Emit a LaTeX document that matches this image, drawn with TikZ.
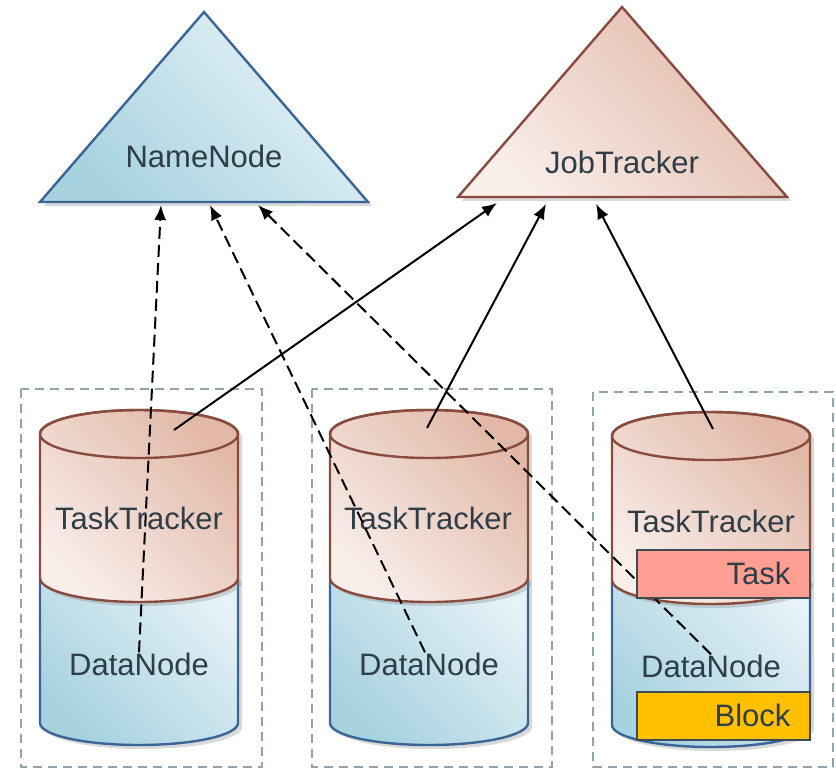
\documentclass[tikz,border=0pt]{standalone}
\usepackage{fontspec}
\setmainfont{Liberation Sans}
\usetikzlibrary{arrows.meta,shadows}

\definecolor{bluedk}{HTML}{A7D2E0}
\definecolor{bluelt}{HTML}{E8F3F8}
\definecolor{reddk}{HTML}{E2B9A8}
\definecolor{redlt}{HTML}{F9EEEA}
\definecolor{nnedge}{HTML}{3B6596}
\definecolor{jtedge}{HTML}{8A4B3F}
\definecolor{txt}{HTML}{2E3D47}
\definecolor{boxedge}{HTML}{8FA3B1}
\definecolor{taskfill}{HTML}{FF9F92}
\definecolor{blockfill}{HTML}{FFC000}
\definecolor{tagedge}{HTML}{3E4A54}

\begin{document}
\begin{tikzpicture}[x=1pt,y=-1pt]
\tikzstyle{lbl}=[text=txt,font=\fontsize{31}{37}\selectfont,inner sep=0pt]
\tikzstyle{blueshade}=[top color=bluelt,bottom color=bluedk,shading angle=-45]
\tikzstyle{redshade}=[top color=reddk,bottom color=redlt,shading angle=-45]
\tikzstyle{hdfs}=[draw=nnedge,line width=2.4pt,blueshade]
\tikzstyle{mapred}=[draw=jtedge,line width=2.4pt,redshade]
\tikzstyle{shadowed}=[drop shadow={opacity=0.3,shadow xshift=4pt,shadow yshift=-4pt}]
\tikzstyle{machine}=[draw=boxedge,line width=1.6pt,dash pattern=on 9pt off 6pt]
\tikzstyle{report}=[line width=2pt,dash pattern=on 12pt off 6pt,-{Latex[length=15pt,width=12pt]}]
\tikzstyle{heartbeat}=[line width=2pt,-{Latex[length=15pt,width=12pt]}]
\tikzstyle{tagbox}=[draw=tagedge,line width=1.6pt,minimum width=173pt,minimum height=48pt,anchor=north west,inner sep=0pt]

\useasboundingbox (0,0) rectangle (836,769);

% machines
\draw[machine] (21,389) rectangle (262,767);
\draw[machine] (312,389) rectangle (552,767);
\draw[machine] (593,392) rectangle (833,767);

% masters
\draw[hdfs,shadowed] (204,12) -- (368,202) -- (40,202) -- cycle;
\node[lbl,anchor=base] (NN) at (204,167) {NameNode};
\draw[mapred,shadowed] (622,7) -- (787,197) -- (458,197) -- cycle;
\node[lbl,anchor=base] (JT) at (622,173) {JobTracker};

% slave 1
\draw[hdfs,shadowed] (40,581) -- (40,723) arc(180:0:99 and 22) -- (238,581) arc(0:-180:99 and 24) -- cycle;
\draw[mapred,shadowed] (40,434) -- (40,578) arc(180:0:99 and 24) -- (238,434) arc(0:-180:99 and 24) -- cycle;
\draw[draw=jtedge,line width=2.4pt] (139,434) ellipse (99 and 24);
\node[lbl,anchor=base] (tt1) at (139,529) {TaskTracker};
\node[lbl,anchor=base] (dn1) at (139,675) {DataNode};

% slave 2
\draw[hdfs,shadowed] (330,581) -- (330,723) arc(180:0:99 and 22) -- (528,581) arc(0:-180:99 and 24) -- cycle;
\draw[mapred,shadowed] (330,434) -- (330,578) arc(180:0:99 and 24) -- (528,434) arc(0:-180:99 and 24) -- cycle;
\draw[draw=jtedge,line width=2.4pt] (429,434) ellipse (99 and 24);
\node[lbl,anchor=base] (tt2) at (428,529) {TaskTracker};
\node[lbl,anchor=base] (dn2) at (429,675) {DataNode};

% slave 3
\draw[hdfs,shadowed] (612,583) -- (612,725) arc(180:0:99 and 22) -- (810,583) arc(0:-180:99 and 24) -- cycle;
\draw[mapred,shadowed] (612,436) -- (612,580) arc(180:0:99 and 24) -- (810,436) arc(0:-180:99 and 24) -- cycle;
\draw[draw=jtedge,line width=2.4pt] (711,436) ellipse (99 and 24);
\node[lbl,anchor=base] (tt3) at (711,532) {TaskTracker};
\node[lbl,anchor=base] (dn3) at (711,677) {DataNode};

\coordinate (nn1) at (161,205);
\coordinate (nn2) at (210,205);
\coordinate (nn3) at (258,205);
\coordinate (jt1) at (497,203);
\coordinate (jt2) at (546,204);
\coordinate (jt3) at (596,204);
\coordinate (top1) at (174,430);
\coordinate (top2) at (427,428);
\coordinate (top3) at (713,429);

\draw[report] (dn1.north) -- (nn1);
\draw[report] ([xshift=-4pt]dn2.north) -- (nn2);
\draw[report] (dn3.north) -- (nn3);
\draw[heartbeat] (top1) -- (jt1);
\draw[heartbeat] (top2) -- (jt2);
\draw[heartbeat] (top3) -- (jt3);

% task and block
\node (task3) [tagbox,fill=taskfill] at (636,549) {};
\node [lbl,anchor=east] at ([xshift=-20pt]task3.east) {Task};
\node (block3) [tagbox,fill=blockfill] at (636,691) {};
\node [lbl,anchor=east] at ([xshift=-20pt]block3.east) {Block};

\end{tikzpicture}
\end{document}
